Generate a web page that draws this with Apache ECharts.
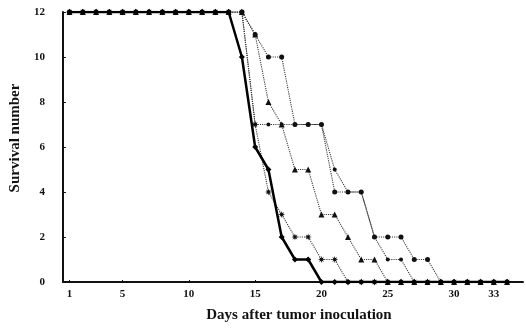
<!DOCTYPE html>
<html>
<head>
<meta charset="utf-8">
<script src="https://cdn.jsdelivr.net/npm/echarts@6/dist/echarts.min.js"></script>
<style>
html,body{margin:0;padding:0;background:#fff;}
#c{width:526px;height:328px;}
</style>
</head>
<body>
<div id="c"></div>
<script>
var days = [1,2,3,4,5,6,7,8,9,10,11,12,13,14,15,16,17,18,19,20,21,22,23,24,25,26,27,28,29,30,31,32,33,34];
var xTickLabels = [1,5,10,15,20,25,30,33];
var yTicks = [0,2,4,6,8,10,12];
var controlGroup = [12,12,12,12,12,12,12,12,12,12,12,12,12,10,6,5,2,1,1,0,0,0,0,0,0,0,0,0,0,0,0,0,0,0];
var groupStar    = [12,12,12,12,12,12,12,12,12,12,12,12,12,12,7,4,3,2,2,1,1,0,0,0,0,0,0,0,0,0,0,0,0,0];
var groupTri     = [12,12,12,12,12,12,12,12,12,12,12,12,12,12,11,8,7,5,5,3,3,2,1,1,0,0,0,0,0,0,0,0,0,0];
var groupCircle  = [12,12,12,12,12,12,12,12,12,12,12,12,12,12,11,10,10,7,7,7,4,4,4,2,2,2,1,1,0,0,0,0,0,0];
var groupDot     = [12,12,12,12,12,12,12,12,12,12,12,12,12,12,7,7,7,7,7,7,5,4,4,2,1,1,0,0,0,0,0,0,0,0];

function pairs(vals){ return days.map(function(d,i){ return [d, vals[i]]; }); }

var serif = '"Liberation Serif","DejaVu Serif",serif';
var starPath = 'path://M0,-10L2.2,-2.2L10,0L2.2,2.2L0,10L-2.2,2.2L-10,0L-2.2,-2.2Z M-7,-7L0,-3L7,-7L3,0L7,7L0,3L-7,7L-3,0Z';

function dotted(name, vals, symbol, size){
  return {
    name: name, type: 'line', data: pairs(vals),
    symbol: symbol, symbolSize: size,
    itemStyle: {color: '#111'},
    lineStyle: {color: '#333', width: 1.1, type: 'dotted'},
    animation: false, z: 2
  };
}

var chart = echarts.init(document.getElementById('c'), null, {renderer: 'canvas'});
chart.setOption({
  backgroundColor: '#fff',
  animation: false,
  grid: {left: 55, right: 3, top: 12, bottom: 41, containLabel: false},
  xAxis: {
    type: 'value', min: 0.5, max: 35.2,
    name: 'Days after tumor inoculation', nameLocation: 'middle', nameGap: 26,
    nameTextStyle: {fontFamily: serif, fontWeight: 'bold', fontSize: 15, color: '#111', padding: [0,0,0,12]},
    axisLine: {show: true, lineStyle: {color: '#111', width: 2}},
    axisTick: {show: true, inside: true, length: 2, customValues: xTickLabels, lineStyle: {color: '#111'}},
    axisLabel: {customValues: xTickLabels, fontFamily: serif, fontWeight: 'bold', fontSize: 11, color: '#111', margin: 7},
    splitLine: {show: false}
  },
  yAxis: {
    type: 'value', min: 0, max: 12, interval: 2,
    name: 'Survival number', nameLocation: 'middle', nameGap: 33,
    nameTextStyle: {fontFamily: serif, fontWeight: 'bold', fontSize: 15, color: '#111', padding: [0,0,0,18]},
    axisLine: {show: true, lineStyle: {color: '#111', width: 2}},
    axisTick: {show: true, inside: true, length: 3, lineStyle: {color: '#111'}},
    axisLabel: {fontFamily: serif, fontWeight: 'bold', fontSize: 11, color: '#111', margin: 18},
    splitLine: {show: false}
  },
  series: [
    dotted('Group A', groupStar, starPath, 7),
    dotted('Group B', groupTri, 'triangle', 6),
    dotted('Group C', groupCircle, 'circle', 5),
    dotted('Group D', groupDot, 'circle', 4),
    {
      name: 'Control', type: 'line', data: pairs(controlGroup),
      symbol: 'diamond', symbolSize: 6,
      itemStyle: {color: '#000'},
      lineStyle: {color: '#000', width: 2.5},
      animation: false, z: 5
    }
  ]
});
</script>
</body>
</html>
